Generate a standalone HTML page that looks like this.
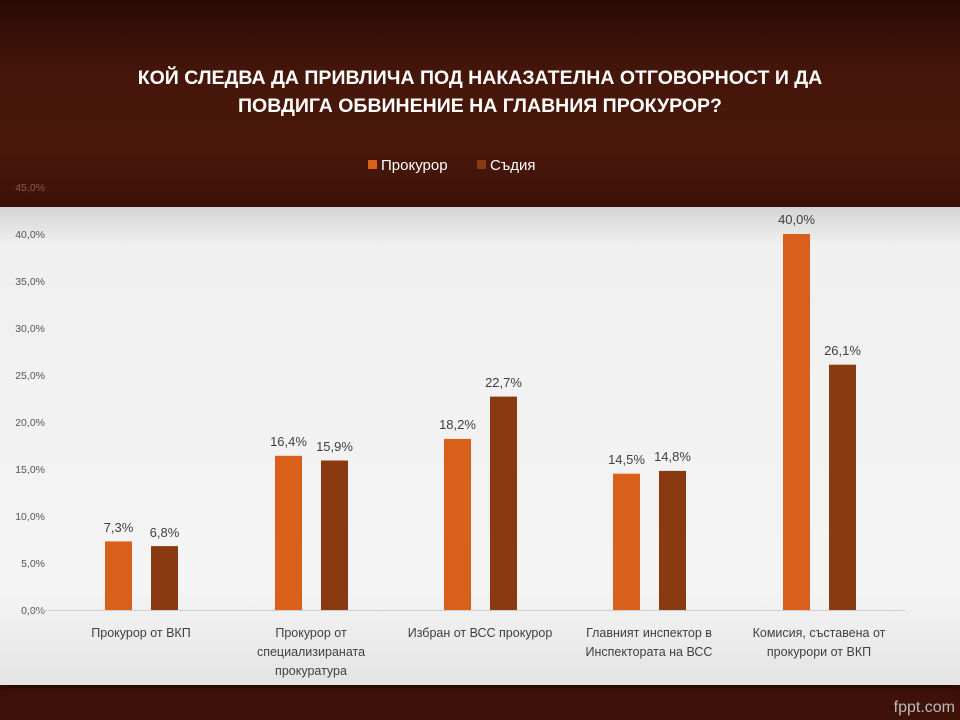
<!DOCTYPE html>
<html><head><meta charset="utf-8"><style>
body{margin:0;width:960px;height:720px;overflow:hidden;background:#3f1409;font-family:"Liberation Sans","DejaVu Sans",sans-serif}
#bg{position:absolute;left:0;top:0;width:960px;height:720px;background:linear-gradient(180deg,#2a0a05 0%,#45160a 10%,#4a180b 20%,#3e1208 28%)}
#panel{position:absolute;left:0;top:207px;width:960px;height:478px;background:linear-gradient(180deg,#d4d4d4 0%,#f0f0f0 8%,#f4f4f4 80%,#e4e4e4 100%);box-shadow:0 2px 6px rgba(0,0,0,.6)}
</style></head><body>
<div id="bg"></div>
<div id="panel"></div>
<svg width="960" height="720" style="position:absolute;left:0;top:0" font-family="Liberation Sans, DejaVu Sans, sans-serif">
<text x="480" y="84" fill="#fff" font-size="19.5" font-weight="bold" text-anchor="middle">КОЙ СЛЕДВА ДА ПРИВЛИЧА ПОД НАКАЗАТЕЛНА ОТГОВОРНОСТ И ДА</text>
<text x="480" y="112" fill="#fff" font-size="19.5" font-weight="bold" text-anchor="middle">ПОВДИГА ОБВИНЕНИЕ НА ГЛАВНИЯ ПРОКУРОР?</text>
<rect x="368" y="160" width="9" height="9" fill="#d9601a"/>
<text x="381" y="170" fill="#fff" font-size="15">Прокурор</text>
<rect x="477" y="160" width="9" height="9" fill="#8a3a10"/>
<text x="490" y="170" fill="#fff" font-size="15">Съдия</text>
<g font-size="10.5" fill="#555" text-anchor="end">
<text x="45" y="191" fill="#8a5a50">45,0%</text>
<text x="45" y="238">40,0%</text><text x="45" y="285">35,0%</text><text x="45" y="332">30,0%</text>
<text x="45" y="379">25,0%</text><text x="45" y="426">20,0%</text><text x="45" y="473">15,0%</text>
<text x="45" y="520">10,0%</text><text x="45" y="567">5,0%</text><text x="45" y="614">0,0%</text>
</g>
<line x1="30" y1="610.5" x2="905" y2="610.5" stroke="#ccc"/>
<g fill="#d9601a">
<rect x="105" y="541.4" width="27" height="68.6"/>
<rect x="275" y="455.8" width="27" height="154.2"/>
<rect x="444" y="438.9" width="27" height="171.1"/>
<rect x="613" y="473.7" width="27" height="136.3"/>
<rect x="783" y="234" width="27" height="376"/>
</g>
<g fill="#8a3a10">
<rect x="151" y="546.1" width="27" height="63.9"/>
<rect x="321" y="460.5" width="27" height="149.5"/>
<rect x="490" y="396.6" width="27" height="213.4"/>
<rect x="659" y="470.9" width="27" height="139.1"/>
<rect x="829" y="364.7" width="27" height="245.3"/>
</g>
<g font-size="13" fill="#404040" text-anchor="middle">
<text x="118.5" y="532">7,3%</text><text x="164.5" y="537">6,8%</text>
<text x="288.5" y="446">16,4%</text><text x="334.5" y="451">15,9%</text>
<text x="457.5" y="429">18,2%</text><text x="503.5" y="387">22,7%</text>
<text x="626.5" y="464">14,5%</text><text x="672.5" y="461">14,8%</text>
<text x="796.5" y="224">40,0%</text><text x="842.5" y="355">26,1%</text>
</g>
<g font-size="12.5" fill="#404040" text-anchor="middle">
<text x="141" y="637">Прокурор  от ВКП</text>
<text x="311" y="637">Прокурор  от</text><text x="311" y="656">специализираната</text><text x="311" y="675">прокуратура</text>
<text x="480" y="637">Избран от ВСС прокурор</text>
<text x="649" y="637">Главният инспектор в</text><text x="649" y="656">Инспектората на ВСС</text>
<text x="819" y="637">Комисия, съставена от</text><text x="819" y="656">прокурори  от ВКП</text>
</g>
<text x="955" y="712" fill="#bbb" font-size="16" text-anchor="end">fppt.com</text>
</svg>
</body></html>
